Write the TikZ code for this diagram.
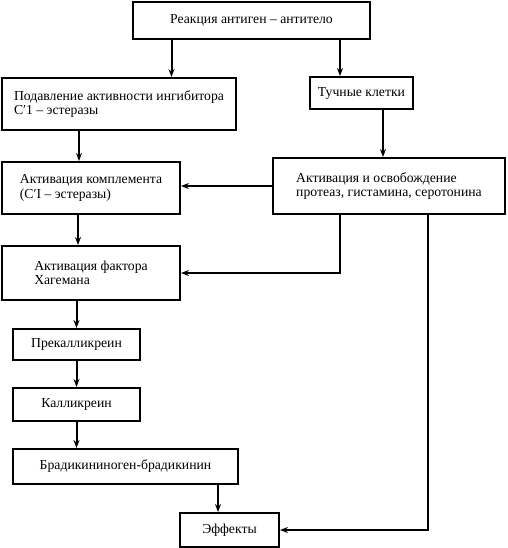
\documentclass[tikz,border=0pt]{standalone}
\usepackage{fontspec}
\setmainfont{Liberation Serif}
\usetikzlibrary{arrows.meta, positioning, calc}

\begin{document}
\begin{tikzpicture}[x=1pt, y=-1pt,
    blk/.style = {rectangle, draw, line width=2pt, align=left, inner sep=0pt, font=\fontsize{13.7}{14.5}\selectfont},
    ->, >={Stealth[length=8pt, width=6pt]}, line width=2pt]
        \useasboundingbox (0,0) rectangle (507,548);
        \node[blk, minimum width=237pt, minimum height=37pt] (n1) at (251.5,20.5) {Реакция антиген – антитело};
        \node[blk, minimum width=234pt, minimum height=52pt] (n2) at (119,104) {Подавление активности ингибитора\\С′1 – эстеразы};
        \node[blk, minimum width=103pt, minimum height=32pt] (n3) at (361.5,93) {Тучные клетки};
        \node[blk, minimum width=178pt, minimum height=52pt] (n4) at (91,188) {Активация комплемента\\(С′I – эстеразы)};
        \node[blk, minimum width=232pt, minimum height=56pt] (n5) at (389,186) {Активация и освобождение\\протеаз, гистамина, серотонина};
        \node[blk, minimum width=178pt, minimum height=54pt] (n6) at (91,273) {Активация фактора\\Хагемана};
        \node[blk, minimum width=127pt, minimum height=31pt] (n7) at (76.5,344.5) {Прекалликреин};
        \node[blk, minimum width=127pt, minimum height=33pt] (n8) at (76.5,404.5) {Калликреин};
        \node[blk, minimum width=225pt, minimum height=35pt] (n9) at (125.5,466.5) {Брадикининоген-брадикинин};
        \node[blk, minimum width=99pt, minimum height=34pt] (n10) at (229.5,530) {Эффекты};
        % from the reaction
        \draw ([xshift=-80pt]n1.south) -- ([xshift=-80pt]n1.south |- n2.north);
        \draw ([xshift=-21.5pt]n3.north |- n1.south) -- ([xshift=-21.5pt]n3.north);
        % left column
        \draw ([xshift=-12pt]n4.north |- n2.south) -- ([xshift=-12pt]n4.north);
        \draw ([xshift=-13pt]n4.south) -- ([xshift=-13pt]n4.south |- n6.north);
        \draw (n7.north |- n6.south) -- (n7.north);
        \draw (n7.south) -- (n8.north);
        \draw (n8.south) -- (n8.south |- n9.north);
        \draw ([xshift=-11.5pt]n10.north |- n9.south) -- ([xshift=-11.5pt]n10.north);
        % right column
        \draw ([xshift=21.5pt]n3.south) -- ([xshift=21.5pt]n3.south |- n5.north);
        \draw (n5.west) -- (n5.west -| n4.east);
        \draw ([xshift=-49pt]n5.south) |- (n6.east);
        \draw ([xshift=39pt]n5.south) |- (n10.east);
    \end{tikzpicture}
\end{document}
